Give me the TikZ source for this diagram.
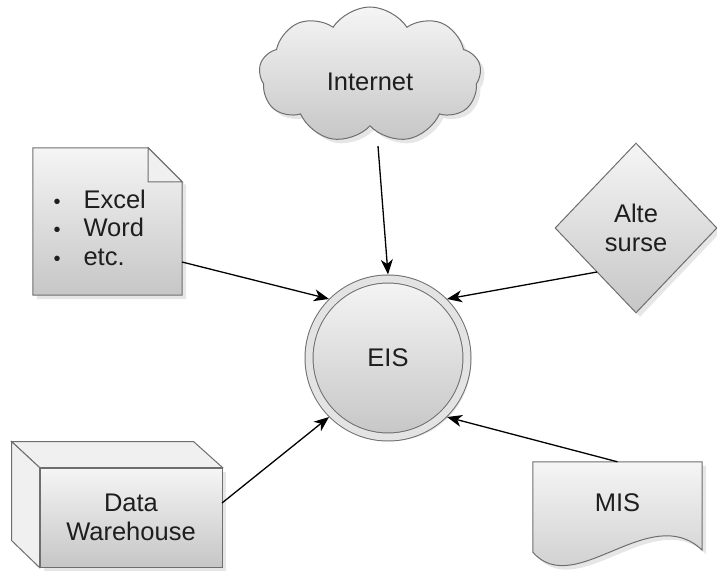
\documentclass[tikz,border=0pt]{standalone}
\usepackage{fontspec}
\setmainfont{Liberation Sans}
\usetikzlibrary{positioning,arrows.meta,shapes.geometric,shapes.symbols,shadows,calc,backgrounds}
\definecolor{shadetop}{HTML}{F5F5F5}
\definecolor{shadebot}{HTML}{C6C6C6}
\definecolor{edgegray}{HTML}{6E6E6E}
\definecolor{textgray}{HTML}{1E1E1E}

\begin{document}
\begin{tikzpicture}[x=1pt, y=-1pt,
  shaded/.style={draw=edgegray, line width=1pt, top color=shadetop, bottom color=shadebot,
    drop shadow={shadow xshift=4pt, shadow yshift=-4pt, opacity=0.2}},
  flatface/.style={draw=edgegray, line width=1pt, fill=gray!12},
  label/.style={font=\fontsize{25.5}{28.5}\selectfont, text=textgray, align=center},
  arrow/.style={-{Stealth[length=15pt, width=12pt, inset=4.5pt]}, line width=1.3pt}
]
\useasboundingbox (0,0) rectangle (717,572);

% central system
\node[shaded, label, circle, minimum size=158pt, double=gray!22, double distance=7pt,
  outer sep=4.5pt] (eis) at (388,358) {EIS};

% sources
\node[shaded, label, cloud, cloud puffs=9, cloud puff arc=115, aspect=1.6,
  minimum width=222pt, minimum height=136pt, text height=31pt] (net) at (370,75) {Internet};
\node[shaded, label, diamond, minimum width=162pt, minimum height=170pt,
  inner sep=0pt] (alte) at (636,228) {Alte\\surse};
\node[minimum width=149pt, minimum height=147pt, inner sep=0pt] (files) at (107.5,221.5) {};
\node[label, align=left, anchor=base west] (filelist) at (50,265)
  {\makebox[30pt][l]{\fontsize{20}{28.5}\selectfont\textbullet}Excel\\
   \makebox[30pt][l]{\fontsize{20}{28.5}\selectfont\textbullet}Word\\
   \makebox[30pt][l]{\fontsize{20}{28.5}\selectfont\textbullet}etc.};
\node[shaded, label, minimum width=182pt, minimum height=99pt, inner sep=0pt] (dw) at (131,517.5) {Data\\Warehouse};
\node[label, minimum width=169pt, minimum height=82pt, inner sep=0pt] (mis) at (617.5,503) {MIS};

\begin{scope}[on background layer]
  % document with folded corner
  \draw[shaded] (files.north west) -- ($(files.north east)+(-34,0)$) -- ($(files.north east)+(0,34)$)
    -- (files.south east) -- (files.south west) -- cycle;
  \draw[flatface] ($(files.north east)+(-34,0)$) -- ($(files.north east)+(-34,34)$)
    -- ($(files.north east)+(0,34)$) -- cycle;
  % box sides
  \draw[flatface] (dw.north west) -- ++(-28,-26) -- ++(182,0) -- (dw.north east) -- cycle;
  \draw[flatface] (dw.north west) -- ++(-28,-26) -- ++(0,99) -- (dw.south west) -- cycle;
  % report with wavy bottom
  \draw[shaded] (mis.north west) -- (mis.north east) -- ($(mis.south east)+(0,6)$)
    .. controls ($(mis.south east)+(-52,-44)$) and ($(mis.south west)+(42,56)$) .. ($(mis.south west)+(0,8)$)
    -- cycle;
\end{scope}

\coordinate (netout) at (378,146);
\coordinate (filesout) at (182,262);
\coordinate (alteout) at (597,272);
\coordinate (dwout) at (222,503);

\draw[arrow] (netout) -- (eis.90);
\draw[arrow] (filesout) -- (eis.135);
\draw[arrow] (alteout) -- (eis.45);
\draw[arrow] (dwout) -- (eis.225);
\draw[arrow] (mis.north) -- (eis.-45);
\end{tikzpicture}
\end{document}
